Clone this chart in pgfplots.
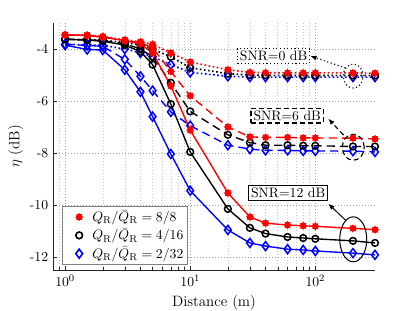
\documentclass[border=0pt,11pt]{standalone}
\usepackage{pgfplots}
\pgfplotsset{compat=1.18}
\usepackage{pgfplotstable}
\usetikzlibrary{arrows.meta}

\pgfdeclareplotmark{starfill}{%
  \pgfpathcircle{\pgfpoint{0pt}{0pt}}{0.72\pgfplotmarksize}%
  \pgfusepathqfillstroke
  \pgfpathmoveto{\pgfqpoint{0pt}{-\pgfplotmarksize}}\pgfpathlineto{\pgfqpoint{0pt}{\pgfplotmarksize}}%
  \pgfpathmoveto{\pgfqpoint{-\pgfplotmarksize}{0pt}}\pgfpathlineto{\pgfqpoint{\pgfplotmarksize}{0pt}}%
  \pgfpathmoveto{\pgfqpoint{-0.7\pgfplotmarksize}{-0.7\pgfplotmarksize}}\pgfpathlineto{\pgfqpoint{0.7\pgfplotmarksize}{0.7\pgfplotmarksize}}%
  \pgfpathmoveto{\pgfqpoint{-0.7\pgfplotmarksize}{0.7\pgfplotmarksize}}\pgfpathlineto{\pgfqpoint{0.7\pgfplotmarksize}{-0.7\pgfplotmarksize}}%
  \pgfusepathqstroke
}

\pgfplotstableread{
x    r0     r6     r12     k0     k6     k12     b0     b6     b12
1    -3.46  -3.46  -3.45   -3.62  -3.62  -3.63   -3.82  -3.82  -3.85
1.5  -3.47  -3.48  -3.48   -3.64  -3.65  -3.66   -3.84  -3.86  -4.02
2    -3.52  -3.53  -3.55   -3.66  -3.68  -3.70   -3.86  -3.90  -4.04
3    -3.65  -3.67  -3.68   -3.75  -3.80  -3.85   -4.00  -4.40  -4.80
4    -3.72  -3.76  -3.80   -3.85  -4.00  -4.10   -4.15  -5.05  -5.65
5    -3.82  -3.95  -4.15   -4.00  -4.30  -4.60   -4.30  -5.60  -6.60
7    -4.15  -4.87  -5.42   -4.30  -5.30  -6.12   -4.60  -6.42  -8.04
10   -4.50  -5.80  -7.12   -4.72  -6.40  -7.96   -4.90  -6.95  -9.45
20   -4.80  -7.00  -9.54   -4.95  -7.30  -10.15  -5.05  -7.70  -10.96
30   -4.90  -7.38  -10.46  -5.00  -7.60  -10.88  -5.08  -7.85  -11.46
40   -4.91  -7.40  -10.70  -5.01  -7.70  -11.10  -5.08  -7.90  -11.58
60   -4.92  -7.40  -10.77  -5.02  -7.70  -11.23  -5.08  -7.90  -11.70
80   -4.92  -7.42  -10.80  -5.02  -7.72  -11.27  -5.08  -7.92  -11.73
100  -4.92  -7.42  -10.82  -5.02  -7.72  -11.30  -5.08  -7.92  -11.77
200  -4.92  -7.43  -10.90  -5.02  -7.75  -11.38  -5.08  -7.93  -11.85
300  -4.93  -7.46  -10.95  -5.02  -7.75  -11.46  -5.08  -7.96  -11.92
}\data

\begin{document}
\begin{tikzpicture}
\begin{axis}[
  name=ax,
  scale only axis,
  width=257.6pt, height=197.6pt,
  xmode=log,
  xmin=0.8, xmax=300,
  ymin=-12.5, ymax=-3,
  ytick={-12,-10,-8,-6,-4},
  yticklabels={-12,-10,-8,-6,-4},
  axis x line*=bottom, axis y line*=left,
  axis line style={black!85, line width=0.5pt},
  tick align=inside,
  major tick length=3pt, minor tick length=2pt,
  tick style={black!85},
  grid=both,
  major grid style={dotted, gray!75, line width=0.5pt},
  minor grid style={dotted, gray!45, line width=0.4pt},
  minor y tick num=0,
  xlabel={\large Distance (m)},
  ylabel={\large $\eta$ (dB)},
  ylabel shift=-2pt,
  clip=false,
  legend cell align=left,
  legend image code/.code={%
    \draw[#1] plot coordinates {(0.42cm,0cm)};
    \path[draw=none, fill=none] (0cm,0cm) (0.72cm,0cm);},
  legend style={at={(rel axis cs:0.028,0.02)}, anchor=south west,
    draw=gray, line width=0.6pt, fill=white, inner sep=1.5pt, row sep=0pt},
]
\addlegendimage{only marks, red, mark=starfill, mark size=3.1pt, mark options={fill=red, line width=0.8pt}}
\addlegendentry{$Q_{\mathrm{R}}/\bar{Q}_{\mathrm{R}}=8/8$}
\addlegendimage{only marks, black, mark=o, mark size=2.7pt, mark options={line width=1.3pt}}
\addlegendentry{$Q_{\mathrm{R}}/\bar{Q}_{\mathrm{R}}=4/16$}
\addlegendimage{only marks, blue, mark=diamond, mark size=3.6pt, mark options={line width=1.3pt}}
\addlegendentry{$Q_{\mathrm{R}}/\bar{Q}_{\mathrm{R}}=2/32$}

% blue
\addplot[forget plot, blue, line width=1.3pt, dotted, mark=diamond, mark size=3.6pt, mark options={solid, line width=1.2pt}] table[x=x,y=b0] {\data};
\addplot[forget plot, blue, line width=1.1pt, dash pattern=on 6.5pt off 4pt, mark=diamond, mark size=3.6pt, mark options={solid, line width=1.2pt}] table[x=x,y=b6] {\data};
\addplot[forget plot, blue, line width=1.1pt, mark=diamond, mark size=3.6pt, mark options={solid, line width=1.2pt}] table[x=x,y=b12] {\data};
% black
\addplot[forget plot, black, line width=1.3pt, dotted, mark=o, mark size=2.7pt, mark options={solid, line width=1.2pt}] table[x=x,y=k0] {\data};
\addplot[forget plot, black, line width=1.1pt, dash pattern=on 6.5pt off 4pt, mark=o, mark size=2.7pt, mark options={solid, line width=1.2pt}] table[x=x,y=k6] {\data};
\addplot[forget plot, black, line width=1.1pt, mark=o, mark size=2.7pt, mark options={solid, line width=1.2pt}] table[x=x,y=k12] {\data};
% red
\addplot[forget plot, red, line width=1.3pt, dotted, mark=starfill, mark size=3.1pt, mark options={solid, fill=red, line width=0.8pt}] table[x=x,y=r0] {\data};
\addplot[forget plot, red, line width=1.1pt, dash pattern=on 6.5pt off 4pt, mark=starfill, mark size=3.1pt, mark options={solid, fill=red, line width=0.8pt}] table[x=x,y=r6] {\data};
\addplot[forget plot, red, line width=1.1pt, mark=starfill, mark size=3.1pt, mark options={solid, fill=red, line width=0.8pt}] table[x=x,y=r12] {\data};

% annotations
\node[draw, dotted, line width=0.9pt, fill=white, inner sep=2pt] (b0) at (axis cs:46.4,-4.27) {SNR=0 dB};
\draw[dotted, line width=0.9pt] (axis cs:201,-5.04) ellipse [x radius=8pt, y radius=9.6pt];
\draw[dotted, line width=0.9pt, -{Latex[length=5pt,width=4pt]}] (axis cs:174,-4.73) -- (b0.east);

\node[draw, dash pattern=on 4pt off 2.5pt, line width=0.9pt, fill=white, inner sep=2pt] (b6) at (axis cs:59.6,-6.56) {SNR=6 dB};
\draw[dash pattern=on 4pt off 2.5pt, line width=0.9pt] (axis cs:201,-7.78) ellipse [x radius=8.8pt, y radius=10.4pt];
\draw[dash pattern=on 4pt off 2.5pt, line width=0.9pt, -{Latex[length=5pt,width=4pt]}] (axis cs:168,-7.31) -- (axis cs:127,-6.68);

\node[draw, line width=0.9pt, fill=white, inner sep=2pt] (b12) at (axis cs:60.7,-9.54) {SNR=12 dB};
\draw[line width=0.8pt] (axis cs:201,-11.32) ellipse [x radius=10.8pt, y radius=18pt];
\draw[line width=0.8pt, -{Latex[length=5pt,width=4pt]}] (axis cs:174,-10.58) -- (axis cs:127,-9.95);
\end{axis}
\pgfresetboundingbox
\path ([shift={(-42.4pt,-32.8pt)}]ax.south west) rectangle ([shift={(32pt,18.4pt)}]ax.north east);
\end{tikzpicture}
\end{document}
